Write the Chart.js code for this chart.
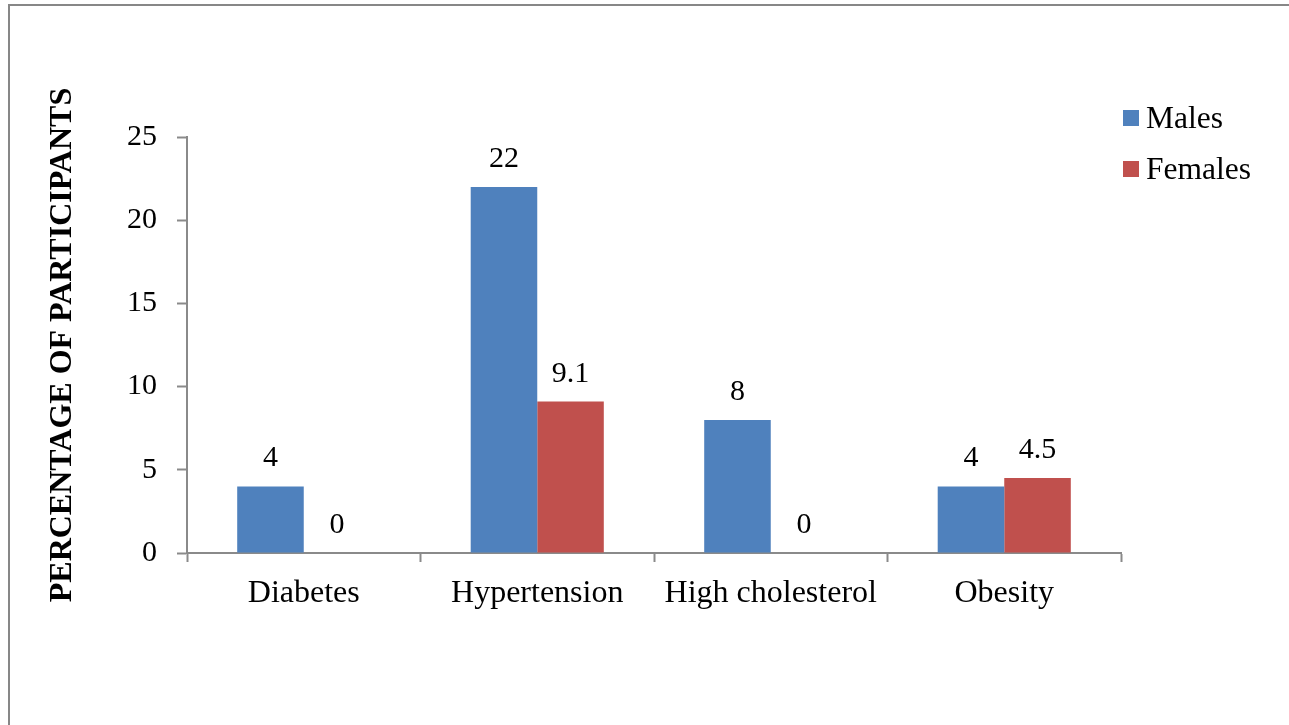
<!DOCTYPE html>
<html>
<head>
<meta charset="utf-8">
<script src="https://cdn.jsdelivr.net/npm/chart.js@4/dist/chart.umd.min.js"></script>
<style>
  html, body { margin: 0; padding: 0; background: #fff; overflow: hidden; }
  #frame { position: absolute; left: 8px; top: 4px; width: 2000px; height: 2000px;
           border-left: 2px solid #878787; border-top: 2px solid #878787; }
  #wrap { position: absolute; left: 0; top: 0; width: 1289px; height: 725px; }
</style>
</head>
<body>
<div id="frame"></div>
<div id="wrap"><canvas id="c" width="1289" height="725"></canvas></div>
<script>
const categories = ['Diabetes', 'Hypertension', 'High cholesterol', 'Obesity'];
const males = [4, 22, 8, 4];
const females = [0, 9.1, 0, 4.5];
const seriesNames = ['Males', 'Females'];
const yTicks = [0, 5, 10, 15, 20, 25];

const FONT = "'Liberation Serif', 'Times New Roman', serif";
const AXIS_GREY = '#8a8a8a';

// value labels above each bar
const valueLabels = {
  id: 'valueLabels',
  afterDatasetsDraw(chart) {
    const ctx = chart.ctx;
    ctx.save();
    ctx.font = '30px ' + FONT;
    ctx.fillStyle = '#000';
    ctx.textAlign = 'center';
    ctx.textBaseline = 'alphabetic';
    chart.data.datasets.forEach((ds, i) => {
      chart.getDatasetMeta(i).data.forEach((bar, j) => {
        ctx.fillText(String(ds.data[j]), bar.x, bar.y - 20);
      });
    });
    ctx.restore();
  }
};

// legend block at the top right
const sideLegend = {
  id: 'sideLegend',
  afterDraw(chart) {
    const ctx = chart.ctx;
    ctx.save();
    ctx.font = '31.5px ' + FONT;
    ctx.textBaseline = 'alphabetic';
    ctx.textAlign = 'left';
    chart.data.datasets.forEach((ds, i) => {
      const top = 110 + i * 51;
      ctx.fillStyle = ds.backgroundColor;
      ctx.fillRect(1123, top, 16, 16);
      ctx.fillStyle = '#000';
      ctx.fillText(ds.label, 1146, top + 18);
    });
    ctx.restore();
  }
};

new Chart(document.getElementById('c'), {
  type: 'bar',
  data: {
    labels: categories,
    datasets: [
      { label: seriesNames[0], data: males, backgroundColor: '#4F81BD',
        categoryPercentage: 0.57, barPercentage: 1.0 },
      { label: seriesNames[1], data: females, backgroundColor: '#C0504D',
        categoryPercentage: 0.57, barPercentage: 1.0 }
    ]
  },
  options: {
    responsive: false,
    animation: false,
    devicePixelRatio: 1,
    layout: { padding: { left: 30, top: 137, right: 168, bottom: 0 } },
    plugins: { legend: { display: false }, tooltip: { enabled: false } },
    scales: {
      x: {
        offset: true,
        grid: { offset: true, drawOnChartArea: false, drawTicks: true, tickLength: 9,
                tickColor: AXIS_GREY, tickWidth: 2 },
        border: { display: true, color: AXIS_GREY, width: 2 },
        ticks: { color: '#000', font: { family: FONT, size: 32 }, padding: 12,
                 maxRotation: 0, autoSkip: false },
        afterFit(scale) { scale.height = 172; }
      },
      y: {
        min: 0, max: 25,
        afterBuildTicks(scale) { scale.ticks = yTicks.map(v => ({ value: v })); },
        grid: { drawOnChartArea: false, drawTicks: true, tickLength: 10,
                tickColor: AXIS_GREY, tickWidth: 2 },
        border: { display: true, color: AXIS_GREY, width: 2 },
        ticks: { color: '#000', font: { family: FONT, size: 30 }, padding: 20 },
        title: { display: true, text: 'PERCENTAGE OF PARTICIPANTS', color: '#000',
                 font: { family: FONT, size: 32, weight: 'bold' },
                 padding: { top: 14, bottom: 10 } },
        afterFit(scale) { scale.width = 157; }
      }
    }
  },
  plugins: [valueLabels, sideLegend]
});
</script>
</body>
</html>
